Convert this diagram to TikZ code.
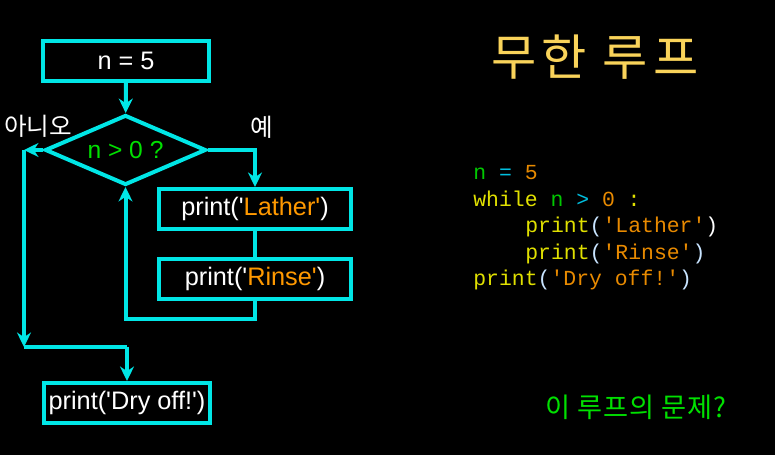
\documentclass[tikz,border=0pt]{standalone}
\usepackage{fontspec}
\setmainfont{Liberation Sans}
\setmonofont{Liberation Mono}
\newfontfamily\krfont{Noto Sans CJK KR}
\usetikzlibrary{shapes.geometric, arrows.meta, positioning, calc}
\definecolor{flowcyan}{HTML}{00E6E6}
\definecolor{strorange}{HTML}{FF9900}
\definecolor{condgreen}{HTML}{00E000}
\definecolor{titleyellow}{HTML}{F9D35A}
\definecolor{codegreen}{HTML}{00C800}
\definecolor{codecyan}{HTML}{00BFDF}
\definecolor{codeorange}{HTML}{E88A00}
\definecolor{codeyellow}{HTML}{E0E000}
\definecolor{codeparen}{HTML}{C8E4FF}
\newcommand{\sq}{\textquotesingle}

\begin{document}
\begin{tikzpicture}[
    box/.style={draw=flowcyan, line width=0.08cm, minimum width=3.32cm, minimum height=0.80cm,
        inner sep=0pt, text=white, font=\fontsize{14.4}{16}\selectfont},
    decision/.style={diamond, draw=flowcyan, line width=0.08cm, aspect=2.3,
        minimum width=3.22cm, minimum height=1.40cm, inner sep=0pt,
        text=condgreen, font=\fontsize{14}{16}\selectfont},
    flow/.style={draw=flowcyan, line width=0.08cm, -{Stealth[length=2.9mm, width=2.8mm]}},
    link/.style={draw=flowcyan, line width=0.08cm},
    branch/.style={text=white, font=\krfont\fontsize{14}{16}\selectfont},
    code/.style={anchor=base west, inner sep=0pt, font=\ttfamily\fontsize{12.2}{14}\selectfont}
]
    % Background
    \useasboundingbox (0,0) rectangle (15.5,9.1);
    \fill[black] (-0.2,-0.2) rectangle (15.7,9.3);

    % Flowchart
    \node[box] (init) at (2.52,7.88) {n = 5};
    \node[decision] (cond) at (2.51,6.10) {n > 0 ?};
    \node[box, minimum width=3.84cm] (lather) at (5.10,4.92)
        {print(\sq\textcolor{strorange}{Lather\sq})};
    \node[box, minimum width=3.84cm] (rinse) at (5.10,3.52)
        {print(\sq\textcolor{strorange}{Rinse\sq})};
    \node[box] (dry) at (2.54,1.04) {print(\sq Dry off!\sq)};

    % Branch labels
    \node[branch] (no) at (0.76,6.58) {아니오};
    \node[branch] (yes) at (5.24,6.56) {예};

    % Corners
    \coordinate (noturn) at (0.48,6.10);
    \coordinate (nodown) at (0.48,2.16);
    \coordinate (join) at (2.54,2.16);
    \coordinate (back) at (2.51,2.72);

    % Connectors
    \draw[flow] (init) -- (cond);
    \draw[flow] (cond.east) -| (lather.north);
    \draw[link] (lather) -- (rinse);
    \draw[flow] (rinse.south) |- (back) -- (cond.south);
    \draw[flow] (cond.west) -- (noturn);
    \draw[flow] (noturn) -- (nodown);
    \draw[link] (nodown) -- (join);
    \draw[flow] (join) -- (dry.north);

    % Title
    \node[text=titleyellow, font=\krfont\fontsize{28}{32}\selectfont\addfontfeatures{LetterSpace=10}] (title) at (11.9,7.96) {무한 루프};

    % Code listing
    \node[code] (line1) at (9.46,5.50)
        {\textcolor{codegreen}{n} \textcolor{codecyan}{=} \textcolor{codeorange}{5}};
    \node[code] (line2) at (9.46,4.97)
        {\textcolor{codeyellow}{while} \textcolor{codegreen}{n} \textcolor{codecyan}{>} \textcolor{codeorange}{0} \textcolor{codeyellow}{:}};
    \node[code] (line3) at (10.50,4.44)
        {\textcolor{codeyellow}{print}\textcolor{codeparen}{(}\textcolor{codeorange}{\sq Lather\sq}\textcolor{white}{)}};
    \node[code] (line4) at (10.50,3.91)
        {\textcolor{codeyellow}{print}\textcolor{codeparen}{(}\textcolor{codeorange}{\sq Rinse\sq}\textcolor{codeparen}{)}};
    \node[code] (line5) at (9.46,3.38)
        {\textcolor{codeyellow}{print}\textcolor{codeparen}{(}\textcolor{codeorange}{\sq Dry off!\sq}\textcolor{codeparen}{)}};

    % Question
    \node[text=condgreen, font=\krfont\fontsize{15.5}{18}\selectfont\addfontfeatures{LetterSpace=3}] (question) at (12.72,0.96) {이 루프의 문제?};
\end{tikzpicture}
\end{document}
